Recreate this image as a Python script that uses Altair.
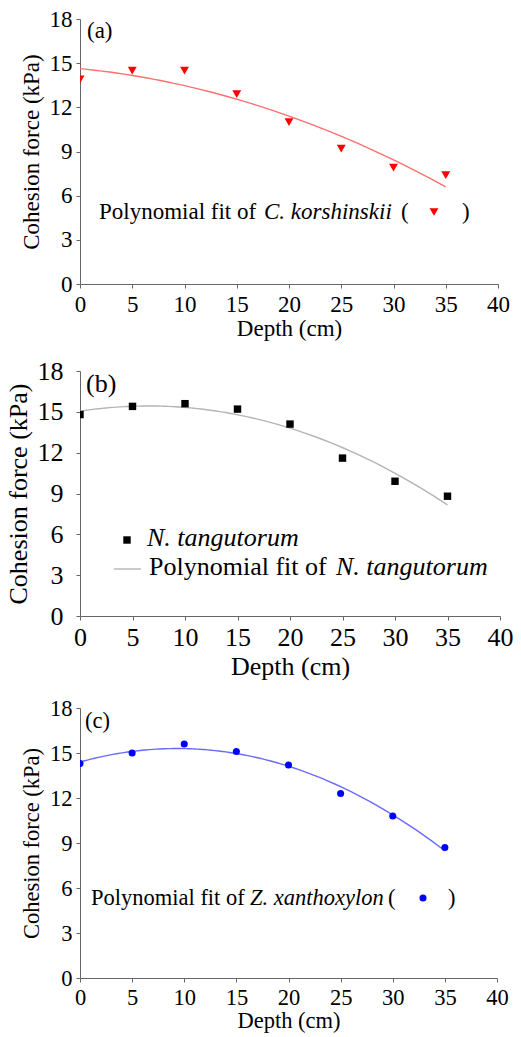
import altair as alt
import pandas as pd

# ---- data ----
depth = [0, 5, 10, 15, 20, 25, 30, 35]
c_korshinskii = [13.9, 14.5, 14.5, 12.9, 11.0, 9.2, 7.9, 7.4]
n_tangutorum = [14.8, 15.4, 15.6, 15.2, 14.1, 11.6, 9.9, 8.8]
z_xanthoxylon = [14.3, 15.0, 15.6, 15.1, 14.2, 12.3, 10.8, 8.7]

x_ticks = [0, 5, 10, 15, 20, 25, 30, 35, 40]
y_ticks = [0, 3, 6, 9, 12, 15, 18]

panel_labels = ["(a)", "(b)", "(c)"]
fit_prefix = "Polynomial fit of "
species = ["C. korshinskii", "N. tangutorum", "Z. xanthoxylon"]

FONT = "Liberation Serif"
AXIS_COLOR = "#666666"


def axes(fs, ylabpad, ytitlepad, xlabpad, xtitlepad):
    common = dict(
        grid=False, format="d",
        labelFont=FONT, titleFont=FONT, labelFontSize=fs, titleFontSize=fs,
        titleFontWeight="normal", labelColor="black", titleColor="black",
        domainColor=AXIS_COLOR, tickColor=AXIS_COLOR, tickSize=4,
        labelFlush=False, labelOverlap=False,
    )
    xenc = alt.X(
        "Depth:Q",
        scale=alt.Scale(domain=[0, 40], nice=False, zero=False),
        axis=alt.Axis(values=x_ticks, title="Depth (cm)",
                      labelPadding=xlabpad, titlePadding=xtitlepad, **common),
    )
    yenc = alt.Y(
        "Cohesion:Q",
        scale=alt.Scale(domain=[0, 18], nice=False),
        axis=alt.Axis(values=y_ticks, title="Cohesion force (kPa)",
                      labelPadding=ylabpad, titlePadding=ytitlepad, **common),
    )
    return xenc, yenc


def text_layer(txt, x, y, fs, italic=False):
    df = pd.DataFrame({"t": [txt]})
    return alt.Chart(df).mark_text(
        font=FONT, fontSize=fs, align="left", baseline="middle",
        fontStyle="italic" if italic else "normal", color="black",
    ).encode(x=alt.value(x), y=alt.value(y), text="t:N")


def sym_layer(shape, color, size, x, y):
    df = pd.DataFrame({"s": [shape]})
    return alt.Chart(df).mark_point(
        shape=shape, filled=True, color=color, size=size, opacity=1,
    ).encode(x=alt.value(x), y=alt.value(y))


def panel(values, shape, pcolor, psize, lcolor, lwidth, fs, pads):
    df = pd.DataFrame({"Depth": depth, "Cohesion": values})
    xenc, yenc = axes(fs, *pads)
    base = alt.Chart(df)
    fit = base.transform_regression(
        "Depth", "Cohesion", method="poly", order=2
    ).mark_line(color=lcolor, strokeWidth=lwidth, clip=True).encode(x=xenc, y=yenc)
    pts = base.mark_point(
        shape=shape, filled=True, color=pcolor, size=psize, opacity=1, clip=True
    ).encode(x=xenc, y=yenc)
    return fit, pts


# panel (a)
fs_a = 23
fit_a, pts_a = panel(c_korshinskii, "triangle-down", "#ff0000", 80, "#ff6f6f", 1.4,
                     fs_a, (4, 6, 5, 1))
chart_a = alt.layer(
    fit_a, pts_a,
    text_layer(panel_labels[0], 7, 12, fs_a),
    text_layer(fit_prefix, 19, 193, fs_a),
    text_layer(species[0], 184, 193, fs_a, italic=True),
    text_layer("(", 321, 193, fs_a),
    sym_layer("triangle-down", "#ff0000", 80, 354, 193),
    text_layer(")", 382, 193, fs_a),
).properties(width=418, height=265)

# panel (b)
fs_b = 26
fit_b, pts_b = panel(n_tangutorum, "square", "#000000", 55, "#b4b4b4", 1.4,
                     fs_b, (13, 6, 4, 3))
line_df = pd.DataFrame({"k": ["fit"]})
legend_line = alt.Chart(line_df).mark_rule(color="#b4b4b4", strokeWidth=1.4).encode(
    x=alt.value(34), x2=alt.value(61), y=alt.value(198)
)
chart_b = alt.layer(
    fit_b, pts_b,
    text_layer(panel_labels[1], 6, 13, fs_b),
    sym_layer("square", "#000000", 55, 47, 169),
    text_layer(species[1], 67, 167, fs_b, italic=True),
    legend_line,
    text_layer(fit_prefix, 69, 196, fs_b),
    text_layer(species[1], 256, 196, fs_b, italic=True),
).properties(width=420, height=245)

# panel (c)
fs_c = 22.5
fit_c, pts_c = panel(z_xanthoxylon, "circle", "#0000ff", 50, "#6a6aff", 1.4,
                     fs_c, (4, 6, 4, 1))
chart_c = alt.layer(
    fit_c, pts_c,
    text_layer(panel_labels[2], 5, 13, fs_c),
    text_layer(fit_prefix, 11, 190, fs_c),
    text_layer(species[2], 170, 190, fs_c, italic=True),
    text_layer("(", 308, 190, fs_c),
    sym_layer("circle", "#0000ff", 50, 343, 190),
    text_layer(")", 368, 190, fs_c),
).properties(width=417, height=270)

chart = alt.vconcat(chart_a, chart_b, chart_c, spacing=18).properties(
    padding={"left": 5, "top": 8, "right": 5, "bottom": 2},
    background="white",
).configure_view(stroke=None)

chart.save("out.html", embed_options={"renderer": "svg", "actions": False})
